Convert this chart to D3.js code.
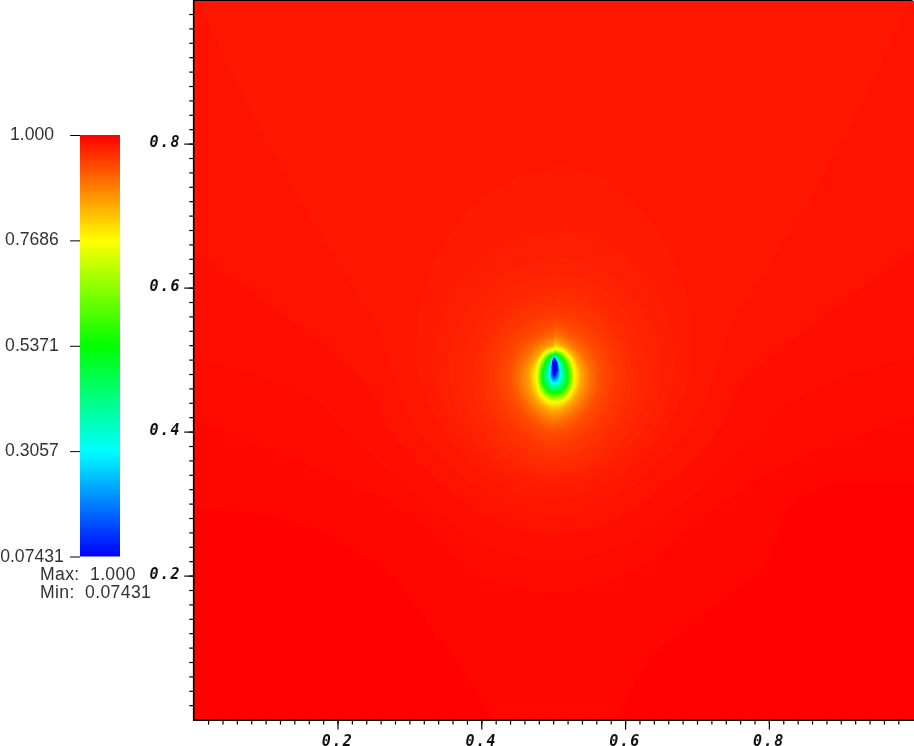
<!DOCTYPE html>
<html>
<head>
<meta charset="utf-8">
<script src="https://cdnjs.cloudflare.com/ajax/libs/d3/7.8.5/d3.min.js"></script>
<style>
    body { margin: 0; background: #fff; overflow: hidden; }
    #chart { position: relative; width: 914px; height: 746px; }
    #chart canvas, #chart svg { position: absolute; }
    .axis-label { font-family: "DejaVu Sans Mono", monospace; font-weight: bold; font-style: italic; font-size: 15px; letter-spacing: 1.5px; fill: #111; }
    .bar-label { font-family: "Liberation Sans", sans-serif; font-size: 17.6px; fill: #333; }
</style>
</head>
<body>
<div id="chart"></div>
<script>
// colour bar
var barTicks = [1.000, 0.7686, 0.5371, 0.3057, 0.07431];
var barLabels = ["1.000", "0.7686", "0.5371", "0.3057", "0.07431"];
var barColors = ["#ff0000", "#ffff00", "#00ff00", "#00ffff", "#0000ff"];
var statLabels = ["Max:  1.000", "Min:  0.07431"];

// axis ticks
var majorTicks = [0.2, 0.4, 0.6, 0.8];
var minorTicks = d3.range(1, 50).map(function(d) { return d / 50; });

// the field, read off the picture as iso-lines around the drop:
// for each level, the distance from the drop centre at each angle (0 = up, 180 = down)
// distances in 1/720 of the domain, 2000 = the level is not reached inside the frame
var dropCentre = [0.501, 0.4854];
var radiusUnit = 1 / 720;
var angles = [0, 20, 45, 70, 90, 110, 135, 160, 180];
var levels = [0.08, 0.3057, 0.5371, 0.7686, 0.85, 0.9, 0.93, 0.95, 0.965, 0.9736, 0.9783, 0.9819, 0.9855, 0.9891, 0.9928, 0.9964];

var radiiRight = [
    [11.5, 8, 4.7, 3.5, 3.3, 2.8, 2.5, 3.5, 5],
    [14, 10, 7, 6, 6, 6.5, 8.5, 12, 13],
    [16, 15.5, 13.5, 12.8, 13, 14.5, 18, 22, 22],
    [21.5, 21, 20, 19.5, 20, 22, 26, 31, 32],
    [28, 26, 25, 25, 27, 29, 33, 38, 41],
    [36, 33, 32, 33, 36, 39, 43, 48, 52],
    [46, 42, 42, 44, 46, 48, 52, 58, 62],
    [58, 58, 58, 60, 62, 64, 68, 74, 78],
    [85, 85, 82, 82, 84, 88, 92, 98, 100],
    [123, 122, 120, 118, 117, 115, 113, 112, 112],
    [203, 190, 165, 145, 136, 128, 125, 127, 128],
    [2000, 2000, 480, 205, 163, 150, 140, 142, 145],
    [2000, 2000, 2000, 400, 200, 175, 160, 162, 165],
    [2000, 2000, 2000, 2000, 310, 210, 185, 188, 190],
    [2000, 2000, 2000, 2000, 500, 260, 210, 218, 223],
    [2000, 2000, 2000, 2000, 2000, 326, 288, 300, 400]
];

var radiiLeft = [
    [11.5, 5, 2.5, 1.8, 1.6, 1.6, 1.7, 3, 5],
    [13, 7, 4.5, 3.5, 3.5, 4, 6, 10, 13],
    [15, 14, 11.5, 10.5, 11, 12.5, 16, 20.5, 22],
    [20, 19.5, 17.5, 16.5, 17, 18.5, 23, 29, 32],
    [25, 24, 22, 22, 24, 26, 31, 37, 41],
    [33, 31, 30, 31, 34, 37, 41, 47, 52],
    [43, 40, 40, 42, 44, 46, 50, 57, 62],
    [56, 56, 56, 58, 60, 62, 66, 73, 78],
    [82, 82, 80, 80, 82, 86, 90, 97, 100],
    [120, 120, 118, 116, 115, 113, 112, 112, 112],
    [198, 186, 163, 144, 136, 128, 125, 127, 128],
    [2000, 2000, 480, 205, 163, 150, 140, 142, 145],
    [2000, 2000, 2000, 400, 200, 175, 160, 162, 165],
    [2000, 2000, 2000, 2000, 310, 210, 185, 188, 190],
    [2000, 2000, 2000, 2000, 500, 270, 205, 218, 223],
    [2000, 2000, 2000, 2000, 2000, 400, 265, 300, 400]
];

var width = 914, height = 746;
var tableSize = 256; // the colour map has 256 steps, that is what gives the faint bands

// * scales
var x = d3.scaleLinear().domain([0, 1]).range([193.7, 912.7]);
var y = d3.scaleLinear().domain([0, 1]).range([719.6, -0.4]);
var barY = d3.scaleLinear().domain([0.07431, 1]).range([556.5, 135]);
var color = d3.scaleLinear()
    .domain(barTicks.slice().reverse())
    .range(barColors.slice().reverse());
var angleIndex = d3.scaleLinear().domain(angles).range(d3.range(angles.length));

var chart = d3.select("#chart");

// * field image
var plotLeft = 194, plotTop = 1, plotWidth = width - plotLeft, plotHeight = 719;

var canvas = chart.append("canvas")
    .attr("width", plotWidth)
    .attr("height", plotHeight)
    .style("left", plotLeft + "px")
    .style("top", plotTop + "px");

var ctx = canvas.node().getContext("2d");
var img = ctx.createImageData(plotWidth, plotHeight);

var lut = d3.range(tableSize).map(function(i) {
    return d3.rgb(color(0.07431 + (1 - 0.07431) * (i + 0.5) / tableSize));
});

var logRight = radiiRight.map(function(row) { return row.map(Math.log); });
var logLeft = radiiLeft.map(function(row) { return row.map(Math.log); });

// smooth between the angles so the iso-lines have no kinks
function radiusAt(row, a, t) {
    var n = row.length - 1;
    var p0 = row[a === 0 ? 1 : a - 1], p1 = row[a], p2 = row[a + 1], p3 = row[a + 1 === n ? n - 1 : a + 2];
    return Math.exp(0.5 * (2 * p1 + (p2 - p0) * t + (2 * p0 - 5 * p1 + 4 * p2 - p3) * t * t + (3 * p1 - p0 - 3 * p2 + p3) * t * t * t));
}

function fieldValue(dx, dy) {
    var r = Math.sqrt(dx * dx + dy * dy) / radiusUnit;
    var theta = Math.atan2(Math.abs(dx), dy) * 180 / Math.PI;
    var table = dx < 0 ? logLeft : logRight;

    var idx = angleIndex(theta);
    var a = Math.min(angles.length - 2, Math.floor(idx));
    var t = idx - a;

    var prevR = 0, prevV = 0.07431;
    for (var k = 0; k < levels.length; k++) {
        var rk = radiusAt(table[k], a, t);
        if (rk <= prevR) continue;
        if (r < rk) {
            return prevV + (levels[k] - prevV) * (r - prevR) / (rk - prevR);
        }
        prevR = rk;
        prevV = levels[k];
    }
    return 1;
}

for (var py = 0; py < plotHeight; py++) {
    var dy = y.invert(py + plotTop + 0.5) - dropCentre[1];
    for (var px = 0; px < plotWidth; px++) {
        var dx = x.invert(px + plotLeft + 0.5) - dropCentre[0];
        var v = fieldValue(dx, dy);
        var c = lut[Math.max(0, Math.min(tableSize - 1, Math.floor((v - 0.07431) / (1 - 0.07431) * tableSize)))];
        var p = (py * plotWidth + px) * 4;
        img.data[p] = c.r;
        img.data[p + 1] = c.g;
        img.data[p + 2] = c.b;
        img.data[p + 3] = 255;
    }
}
ctx.putImageData(img, 0, 0);

// * svg overlay
var svg = chart.append("svg")
    .attr("width", width)
    .attr("height", height);

// frame, left and top only reach the picture border
svg.append("path")
    .attr("d", "M" + x(1) + "," + y(1) + "H" + x(0) + "V" + y(0) + "H" + width)
    .attr("fill", "none")
    .attr("stroke", "#000")
    .attr("stroke-width", 1.6)
    .attr("transform", "translate(0,0.5)");

// * axes
var xMinor = d3.axisBottom(x).tickValues(minorTicks).tickSize(5).tickFormat("");
var xMajor = d3.axisBottom(x).tickValues(majorTicks).tickSize(10).tickFormat("");
var yMinor = d3.axisLeft(y).tickValues(minorTicks).tickSize(4.5).tickFormat("");
var yMajor = d3.axisLeft(y).tickValues(majorTicks).tickSize(9.5).tickFormat("");

[xMinor, xMajor].forEach(function(axis) {
    var g = svg.append("g").attr("transform", "translate(0," + y(0) + ")").call(axis);
    g.select(".domain").remove();
    g.selectAll("line").attr("stroke", "#000").attr("stroke-width", 1.2);
});
[yMinor, yMajor].forEach(function(axis) {
    var g = svg.append("g").attr("transform", "translate(" + x(0) + ",0)").call(axis);
    g.select(".domain").remove();
    g.selectAll("line").attr("stroke", "#000").attr("stroke-width", 1.2);
});

svg.selectAll(".x-label")
    .data(majorTicks)
    .enter().append("text")
    .attr("class", "axis-label")
    .attr("x", function(d) { return x(d); })
    .attr("y", 746)
    .attr("text-anchor", "middle")
    .text(function(d) { return d3.format(".1f")(d); });

svg.selectAll(".y-label")
    .data(majorTicks)
    .enter().append("text")
    .attr("class", "axis-label")
    .attr("x", 181)
    .attr("y", function(d) { return y(d) + 3; })
    .attr("text-anchor", "end")
    .text(function(d) { return d3.format(".1f")(d); });

// * colour bar
var grad = svg.append("defs").append("linearGradient")
    .attr("id", "bar-gradient")
    .attr("x1", 0).attr("x2", 0).attr("y1", 0).attr("y2", 1);

grad.selectAll("stop")
    .data(barTicks)
    .enter().append("stop")
    .attr("offset", function(d) { return (barY(d) - barY(1)) / (barY(0.07431) - barY(1)); })
    .attr("stop-color", function(d) { return color(d); });

svg.append("rect")
    .attr("x", 80)
    .attr("y", barY(1))
    .attr("width", 40)
    .attr("height", barY(0.07431) - barY(1))
    .attr("fill", "url(#bar-gradient)");

var barAxis = d3.axisLeft(barY).tickValues(barTicks).tickSize(10).tickFormat("");
var barG = svg.append("g").attr("transform", "translate(80,0)").call(barAxis);
barG.select(".domain").remove();
barG.selectAll("line").attr("stroke", "#000").attr("stroke-width", 1);

svg.selectAll(".bar-tick")
    .data(barTicks)
    .enter().append("text")
    .attr("class", "bar-label")
    .attr("x", 32)
    .attr("y", function(d) { return barY(d) + 5; })
    .attr("text-anchor", "middle")
    .text(function(d, i) { return barLabels[i]; });

svg.selectAll(".bar-stat")
    .data(statLabels)
    .enter().append("text")
    .attr("class", "bar-label")
    .attr("xml:space", "preserve")
    .style("white-space", "pre")
    .style("letter-spacing", "0.35px")
    .attr("x", 40)
    .attr("y", function(d, i) { return 580 + i * 18; })
    .text(function(d) { return d; });
</script>
</body>
</html>
